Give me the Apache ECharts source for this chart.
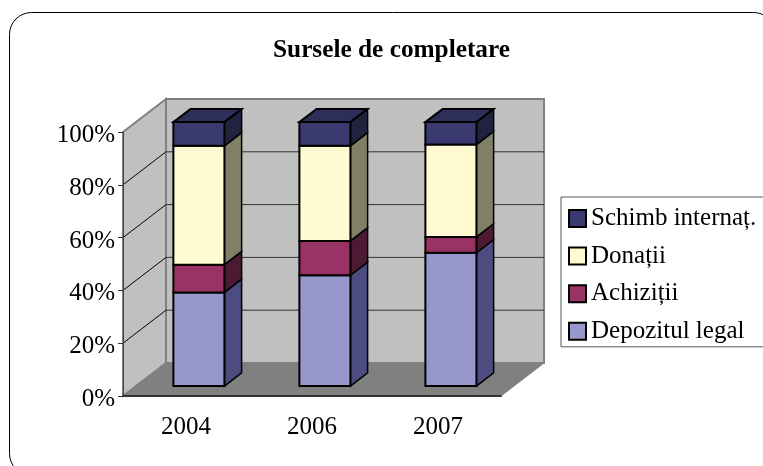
<!DOCTYPE html>
<html>
<head>
<meta charset="utf-8">
<style>
  html, body { margin: 0; padding: 0; background: #fff; }
  #main { width: 763px; height: 466px; }
</style>
<script src="https://cdn.jsdelivr.net/npm/echarts@6/dist/echarts.min.js"></script>
</head>
<body>
<div id="main"></div>
<script>
const years = ["2004", "2006", "2007"];
const depozit = [35.5, 42, 50.5];
const achizitii = [10.5, 13, 6];
const donatii = [45, 36, 35];
const schimb = [9, 9, 8.5];
const percentTicks = [0, 20, 40, 60, 80, 100];

const FONT = "Liberation Serif";
// 3D look: how far the back wall sits from the front plane, in pixels
const DEPTH_X = 43;
const DEPTH_Y = -33;
const BAR_FRONT = 0.3; // bar front face, share of the depth
const BAR_DEEP = 0.4;  // bar thickness, share of the depth
const BAR_RATIO = 0.405;

const stacks = [
  { name: "Depozitul legal", values: depozit, front: "#9797cc", side: "#4c4c80", top: "#4c4c80" },
  { name: "Achiziții", values: achizitii, front: "#993366", side: "#4c1a33", top: "#4c1a33" },
  { name: "Donații", values: donatii, front: "#fffad2", side: "#808066", top: "#808066" },
  { name: "Schimb internaț.", values: schimb, front: "#3a3a70", side: "#22223f", top: "#2e2e5a" }
];

function polygon(points, fill, stroke, width) {
  return {
    type: "polygon",
    shape: { points: points },
    style: { fill: fill, stroke: stroke, lineWidth: width, lineJoin: "miter" }
  };
}

function line(points, color) {
  return {
    type: "polyline",
    shape: { points: points },
    style: { fill: null, stroke: color, lineWidth: 1 }
  };
}

function renderWalls(params, api) {
  const tick = api.value(0);
  const left = api.coord([0, tick]);
  // right end of the front plane: last category centre plus half a band
  const band = api.size([1, 0])[0];
  const right = api.coord([years.length - 1, tick])[0] + band / 2;
  const x0 = left[0] - band / 2;
  const y = left[1];
  const children = [];
  if (params.dataIndex === 0) {
    const top = api.coord([0, percentTicks[percentTicks.length - 1]])[1];
    const d = (x, yy) => [x + DEPTH_X, yy + DEPTH_Y];
    children.push(polygon([d(x0, top), d(right, top), d(right, y), d(x0, y)], "#c0c0c0", "#808080", 2));
    children.push(polygon([[x0, top], d(x0, top), d(x0, y), [x0, y]], "#c0c0c0", "#808080", 2));
    children.push(polygon([[x0, y], [right, y], d(right, y), d(x0, y)], "#808080", "#808080", 1));
  } else if (tick < percentTicks[percentTicks.length - 1]) {
    children.push(line([[x0, y], [x0 + DEPTH_X, y + DEPTH_Y]], "#000"));
    children.push(line([[x0 + DEPTH_X, y + DEPTH_Y], [right + DEPTH_X, y + DEPTH_Y]], "#333"));
  }
  return { type: "group", children: children };
}

function makeBarRenderer(stack, stackIndex) {
  return function (params, api) {
    const i = params.dataIndex;
    let start = 0;
    for (let s = 0; s < stackIndex; s++) start += stacks[s].values[i];
    const end = start + stack.values[i];
    const band = api.size([1, 0])[0];
    const w = band * BAR_RATIO;
    const ox = DEPTH_X * BAR_FRONT;
    const oy = DEPTH_Y * BAR_FRONT;
    const dx = DEPTH_X * BAR_DEEP;
    const dy = DEPTH_Y * BAR_DEEP;
    const bottom = api.coord([i, start]);
    const upper = api.coord([i, end]);
    const x1 = bottom[0] - w / 2 + ox;
    const x2 = x1 + w;
    const y1 = bottom[1] + oy;
    const y2 = upper[1] + oy;
    const children = [
      polygon([[x2, y1], [x2 + dx, y1 + dy], [x2 + dx, y2 + dy], [x2, y2]], stack.side, "#000", 1.5),
      polygon([[x1, y1], [x2, y1], [x2, y2], [x1, y2]], stack.front, "#000", 2)
    ];
    if (stackIndex === stacks.length - 1) {
      children.push(polygon([[x1, y2], [x2, y2], [x2 + dx, y2 + dy], [x1 + dx, y2 + dy]], stack.top, "#000", 2));
    }
    return { type: "group", children: children };
  };
}

const series = [{
  type: "custom",
  silent: true,
  z: 1,
  renderItem: renderWalls,
  data: percentTicks.map(t => [t]),
  encode: { y: 0 }
}];

stacks.forEach((stack, idx) => {
  series.push({
    type: "custom",
    name: stack.name,
    z: 2 + idx,
    itemStyle: { color: stack.front },
    renderItem: makeBarRenderer(stack, idx),
    data: stack.values.map((v, i) => [i, v]),
    encode: { x: 0, y: 1 }
  });
});

const chart = echarts.init(document.getElementById("main"));
chart.setOption({
  animation: false,
  backgroundColor: "#fff",
  textStyle: { fontFamily: FONT },
  title: {
    text: "Sursele de completare",
    left: 386.5,
    top: 33,
    textAlign: "center",
    textStyle: { fontFamily: FONT, fontSize: 25.3, fontWeight: "bold", color: "#000" }
  },
  grid: { left: 123, top: 132, width: 378, height: 264, containLabel: false },
  xAxis: {
    type: "category",
    data: years,
    axisLine: { lineStyle: { color: "#333", width: 2 } },
    axisTick: { length: 5, lineStyle: { color: "#333" } },
    axisLabel: { fontFamily: FONT, fontSize: 25, color: "#000", margin: 19 },
    z: 10
  },
  yAxis: {
    type: "value",
    min: 0,
    max: 100,
    interval: 20,
    axisLine: { show: true, lineStyle: { color: "#444", width: 1 } },
    axisTick: { show: true, length: 5, lineStyle: { color: "#333" } },
    splitLine: { show: false },
    axisLabel: {
      margin: 8,
      formatter: "{v|{value}%}",
      rich: { v: { fontFamily: FONT, fontSize: 25, color: "#000", padding: [7, 0, 0, 0] } }
    },
    z: 10
  },
  legend: {
    orient: "vertical",
    left: 561,
    top: 197,
    data: stacks.map(s => s.name).reverse(),
    icon: "rect",
    selectedMode: false,
    backgroundColor: "#fff",
    borderColor: "#555",
    borderWidth: 1,
    padding: [9, 12, 3, 7],
    itemGap: 12.6,
    itemWidth: 17,
    itemHeight: 17,
    itemStyle: { borderColor: "#000", borderWidth: 2 },
    textStyle: { fontFamily: FONT, fontSize: 25, color: "#000", padding: [3, 0, 0, 0] }
  },
  graphic: [{
    type: "rect",
    z: -1,
    silent: true,
    shape: { x: 9.5, y: 12.5, width: 766, height: 463, r: 22 },
    style: { fill: "#fff", stroke: "#000", lineWidth: 1 }
  }],
  series: series
});

window.addEventListener("resize", () => { chart.resize(); });
</script>
</body>
</html>
